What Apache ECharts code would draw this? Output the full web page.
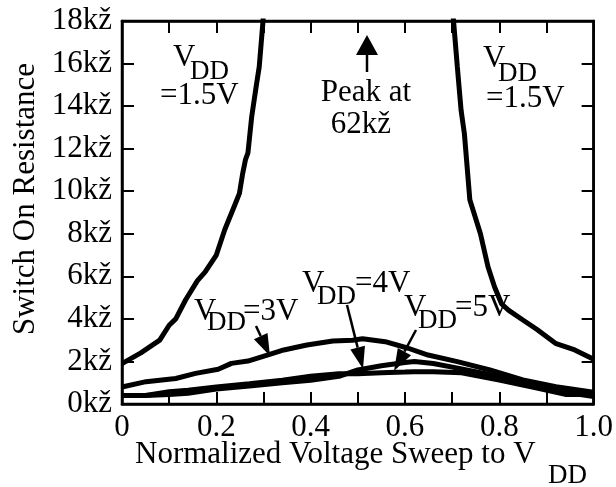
<!DOCTYPE html>
<html>
<head>
<meta charset="utf-8">
<script src="https://cdn.jsdelivr.net/npm/echarts@6/dist/echarts.min.js"></script>
<style>
  html, body { margin: 0; padding: 0; background: #fff; }
  #chart { width: 616px; height: 487px; }
</style>
</head>
<body>
<div id="chart"></div>
<script>
// 数据 (x: 归一化电压, 值: kΩ)
var x15 = [0, 0.04, 0.08, 0.1, 0.114, 0.135, 0.16, 0.176, 0.2, 0.218, 0.24, 0.249, 0.256, 0.262, 0.267, 0.275, 0.285, 0.291, 0.299, 0.303, 0.5, 0.697, 0.703, 0.711, 0.719, 0.726, 0.7375, 0.76, 0.776, 0.79, 0.805, 0.82, 0.85, 0.88, 0.919, 0.96, 1.0];
var r15 = [1.9, 2.4, 3.0, 3.7, 4.0, 4.9, 5.8, 6.2, 7.0, 8.2, 9.4, 9.9, 10.85, 11.5, 11.8, 13.5, 15, 15.85, 18, 20, 62, 20, 18, 15.85, 13.8, 12.7, 9.6, 8.0, 6.45, 5.5, 4.7, 4.4, 3.95, 3.5, 2.85, 2.54, 2.1];

var x3 = [0, 0.051, 0.114, 0.156, 0.204, 0.232, 0.267, 0.308, 0.343, 0.392, 0.447, 0.489, 0.51, 0.558, 0.607, 0.649, 0.711, 0.78, 0.85, 0.92, 1.0];
var r3 = [0.8, 1.05, 1.2, 1.44, 1.63, 1.91, 2.02, 2.3, 2.54, 2.77, 2.96, 3.0, 3.07, 2.93, 2.62, 2.3, 1.99, 1.6, 1.13, 0.81, 0.55];

var x45 = [0, 0.05, 0.1, 0.14, 0.2, 0.27, 0.34, 0.4, 0.46, 0.5, 0.55, 0.6, 0.62, 0.66, 0.72, 0.8, 0.88, 0.94, 1.0];
var r4 = [0.4, 0.4, 0.45, 0.5, 0.7, 0.85, 1.0, 1.12, 1.3, 1.6, 1.8, 1.95, 2.0, 1.9, 1.65, 1.3, 0.9, 0.55, 0.35];
var r5 = [0.4, 0.4, 0.58, 0.65, 0.8, 0.95, 1.12, 1.3, 1.42, 1.42, 1.47, 1.5, 1.52, 1.52, 1.47, 1.13, 0.75, 0.45, 0.45];

var yTicks = [0, 2, 4, 6, 8, 10, 12, 14, 16, 18]; // kΩ

var FONT = "'Liberation Serif', 'Times New Roman', serif";

function pairs(xs, rs) {
  return xs.map(function (x, i) { return [x, rs[i] * 1000]; });
}

function txt(x, y, s, size, align, rot) {
  return {
    type: "text", x: x, y: y, z: 100, rotation: rot || 0,
    style: {
      text: s, font: size + "px " + FONT, fill: "#000",
      textAlign: align || "left", textVerticalAlign: "middle"
    }
  };
}

// 箭头
function arrow(x1, y1, x2, y2, len, w) {
  var dx = x2 - x1, dy = y2 - y1, d = Math.sqrt(dx * dx + dy * dy);
  var ux = dx / d, uy = dy / d;
  var bx = x2 - ux * len, by = y2 - uy * len;
  var px = -uy * w / 2, py = ux * w / 2;
  return [
    { type: "line", z: 100, shape: { x1: x1, y1: y1, x2: bx, y2: by }, style: { stroke: "#000", lineWidth: 2.5 } },
    { type: "polygon", z: 100, shape: { points: [[x2, y2], [bx + px, by + py], [bx - px, by - py]] }, style: { fill: "#000" } }
  ];
}

// 坐标轴 (四边都有内刻度)
function makeAxis(pos, min, max, interval, label) {
  return {
    type: "value", position: pos, min: min, max: max, interval: interval,
    axisLine: { show: true, onZero: false, lineStyle: { color: "#000", width: 2.5 } },
    axisTick: { show: true, inside: true, length: 12, lineStyle: { color: "#000", width: 2 } },
    splitLine: { show: false },
    axisLabel: label || { show: false }
  };
}

var xFmt = function (v) {
  var k = Math.round(v * 10);
  if (k % 2) return "";
  return k === 0 ? "0" : (k / 10).toFixed(1);
};

var myChart = echarts.init(document.getElementById("chart"));

var lineStyle = { color: "#000", width: 5 };

var graphics = [
  txt(26, 199, "Switch On Resistance", 31, "center", Math.PI / 2),
  txt(135, 455, "Normalized Voltage Sweep to V", 31),
  txt(548, 476, "DD", 27),
  // 左 VDD=1.5V
  txt(173, 58, "V", 31), txt(190, 72, "DD", 27), txt(160, 96, "=1.5V", 31),
  // 右 VDD=1.5V
  txt(483, 59, "V", 31), txt(498, 74, "DD", 27), txt(486, 99, "=1.5V", 31),
  // 峰值
  txt(366, 93, "Peak at", 31, "center"), txt(361, 125, "62kž", 31, "center"),
  // 3V / 4V / 5V
  txt(194, 312, "V", 31), txt(207, 323, "DD", 27), txt(243, 312, "=3V", 31),
  txt(302, 284, "V", 31), txt(317, 297, "DD", 27), txt(355, 284, "=4V", 31),
  txt(404, 308, "V", 31), txt(418, 321, "DD", 27), txt(455, 308, "=5V", 31)
].concat(
  arrow(367, 72, 367, 35, 20, 22),
  arrow(256, 326, 270, 356, 22, 15),
  arrow(347, 305, 363, 369, 22, 15),
  arrow(416, 330, 394, 371, 22, 15)
);

var option = {
  animation: false,
  backgroundColor: "#fff",
  grid: { left: 122, right: 14, top: 21, bottom: 83, show: true, borderColor: "#000", borderWidth: 2.5 },
  xAxis: [
    makeAxis("bottom", 0, 1, 0.1,
      { formatter: xFmt, color: "#000", fontFamily: FONT, fontSize: 31, margin: 8 }),
    makeAxis("top", 0, 1, 0.1)
  ],
  yAxis: [
    makeAxis("left", yTicks[0] * 1000, yTicks[yTicks.length - 1] * 1000, 2000, {
      formatter: function (v) { return v / 1000 + "kž"; },
      color: "#000", fontFamily: FONT, fontSize: 31, margin: 10
    }),
    makeAxis("right", 0, 18000, 2000)
  ],
  series: [
    { name: "VDD=1.5V", type: "line", data: pairs(x15, r15), symbol: "none", clip: true, lineStyle: lineStyle },
    { name: "VDD=3V", type: "line", data: pairs(x3, r3), symbol: "none", clip: true, lineStyle: lineStyle },
    { name: "VDD=4V", type: "line", data: pairs(x45, r4), symbol: "none", clip: true, lineStyle: lineStyle },
    { name: "VDD=5V", type: "line", data: pairs(x45, r5), symbol: "none", clip: true, lineStyle: lineStyle }
  ],
  graphic: graphics
};

myChart.setOption(option);
</script>
</body>
</html>
